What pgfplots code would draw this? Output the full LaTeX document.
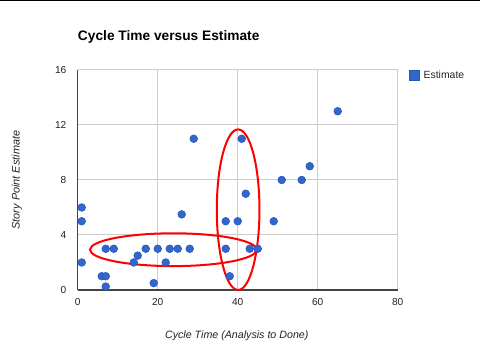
\documentclass[border=0pt]{standalone}
\usepackage{pgfplots}
\pgfplotsset{compat=1.18}
\usepackage{fontspec}
\setmainfont{Liberation Sans}
\definecolor{dotblue}{HTML}{3366CC}
\definecolor{dotedge}{HTML}{2456BC}
\definecolor{gridgray}{HTML}{CCCCCC}
\definecolor{axisgray}{HTML}{444444}
\definecolor{labelgray}{HTML}{222222}
\begin{document}
\begin{tikzpicture}
\path[use as bounding box] (0,0) rectangle (360pt,270pt);
\draw[line width=1pt, black] (0,269.5pt) -- (360pt,269.5pt);
\begin{axis}[
  at={(58.3pt,52.5pt)}, anchor=south west,
  scale only axis, width=240pt, height=165pt,
  xmin=0, xmax=80, ymin=0, ymax=16,
  xtick={0,20,40,60,80}, ytick={0,4,8,12,16},
  axis lines=left, axis line style={-, draw=axisgray, line width=0.8pt},
  grid=major, grid style={draw=gridgray, line width=0.75pt},
  major tick length=0pt,
  tick label style={font=\fontsize{7.6}{9}\selectfont, text=labelgray},
  /pgf/number format/assume math mode=true,
  yticklabel style={xshift=-5pt},
  xticklabel style={yshift=-3pt},
  clip=false,
  title={\textbf{Cycle Time versus Estimate}},
  title style={at={(axis description cs:0,1.0986)}, anchor=base west, font=\fontsize{10.3}{12}\selectfont, inner sep=0pt},
  xlabel={\itshape Cycle Time (Analysis to Done)},
  xlabel style={at={(axis description cs:0.497,-0.2195)}, anchor=base, font=\fontsize{8}{9}\selectfont, text=labelgray, inner sep=0pt},
  ylabel={\itshape Story Point Estimate},
  ylabel style={at={(axis description cs:-0.1906,0.5)}, anchor=center, rotate=0, font=\fontsize{8.2}{9}\selectfont, text=labelgray},
  legend style={at={(axis description cs:1.035,0.974)}, anchor=west, draw=none, fill=none, inner sep=0pt, font=\fontsize{7.8}{9}\selectfont, text=labelgray,
    nodes={inner sep=0pt}, /tikz/every odd column/.append style={column sep=3pt}},
  legend image code/.code={\fill[fill=dotblue, draw=dotedge, line width=0.4pt] (0pt,-3.75pt) rectangle (7.5pt,3.75pt);},
]
\addplot[only marks, mark=*, mark size=2.9pt, mark options={fill=dotblue, draw=dotedge, line width=0.4pt}] coordinates {
(1,6) (1,5) (1,2) (6,1) (7,1) (7,0.25) (7,3) (9,3) (14,2) (15,2.5)
(17,3) (20,3) (19,0.5) (22,2) (23,3) (25,3) (28,3) (26,5.5) (29,11)
(37,5) (37,3) (38,1) (40,5) (41,11) (42,7) (43,3) (45,3) (49,5)
(51,8) (56,8) (58,9) (65,13)
};
\addlegendentry{Estimate}
\draw[red, line width=1.5pt] (axis cs:23.9,2.93) ellipse [x radius=62.5pt, y radius=12.3pt];
\draw[red, line width=1.5pt] (axis cs:40.1,5.84) ellipse [x radius=16pt, y radius=60.2pt];
\end{axis}
\end{tikzpicture}
\end{document}
